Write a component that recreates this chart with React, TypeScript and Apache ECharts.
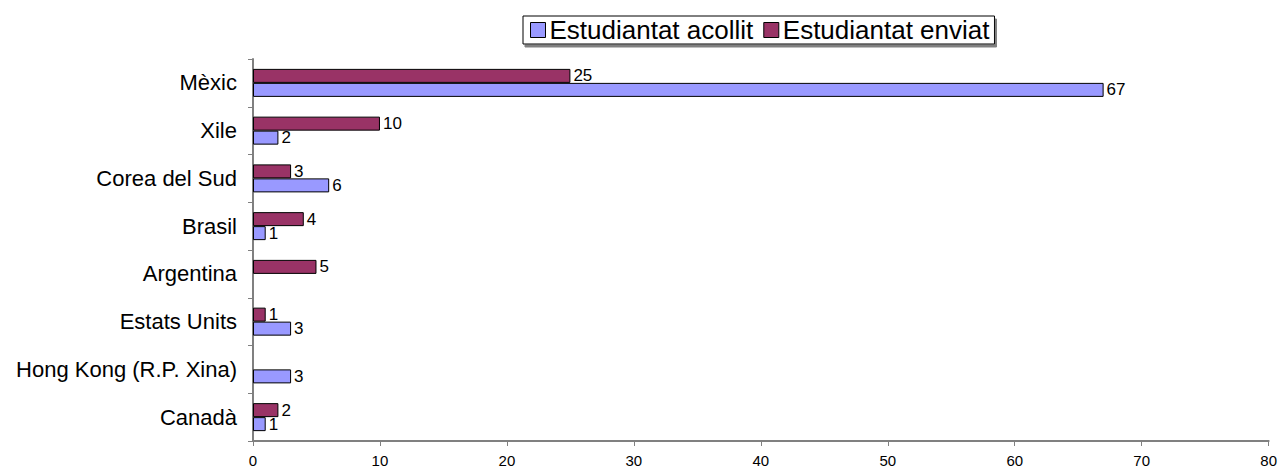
import React, { useEffect, useRef } from "react";
import * as echarts from "echarts";

const categories = ["Canadà", "Hong Kong (R.P. Xina)", "Estats Units", "Argentina", "Brasil", "Corea del Sud", "Xile", "Mèxic"];
const acollit: (number | null)[] = [1, 3, 3, null, 1, 6, 2, 67];
const enviat: (number | null)[] = [2, null, 1, 5, 4, 3, 10, 25];
const seriesNames = ["Estudiantat acollit", "Estudiantat enviat"];
const xMin = 0;
const xMax = 80;
const xInterval = 10;

export default function App() {
  const ref = useRef<HTMLDivElement>(null);
  useEffect(() => {
    if (!ref.current) return;
    const chart = echarts.init(ref.current, undefined, { renderer: "svg" });
    const font = "'Liberation Sans', Arial, sans-serif";
    const label = {
      show: true,
      position: "right" as const,
      distance: 3,
      color: "#000",
      fontSize: 17,
      fontFamily: font,
    };
    chart.setOption({
      animation: false,
      textStyle: { fontFamily: font },
      legend: {
        top: 16,
        left: 523,
        padding: [1, 5, 1, 7],
        itemGap: 10,
        itemWidth: 15,
        itemHeight: 15,
        borderColor: "#000",
        borderWidth: 1,
        backgroundColor: "#fff",
        shadowColor: "#808080",
        shadowOffsetX: 2,
        shadowOffsetY: 3,
        shadowBlur: 0,
        icon: "rect",
        itemStyle: { borderColor: "#000", borderWidth: 1 },
        textStyle: { fontSize: 26, color: "#000", fontFamily: font, padding: [0, 0, 0, -1] },
        data: seriesNames,
      },
      grid: { left: 253, right: 10, top: 59, bottom: 30, containLabel: false },
      xAxis: {
        type: "value",
        min: xMin,
        max: xMax,
        interval: xInterval,
        axisLine: { show: true, lineStyle: { color: "#808080", width: 2 } },
        axisTick: { show: true, length: 5, lineStyle: { color: "#808080" } },
        axisLabel: { color: "#000", fontSize: 15, fontFamily: font, margin: 12 },
        splitLine: { show: false },
      },
      yAxis: {
        type: "category",
        data: categories,
        axisLine: { show: true, lineStyle: { color: "#808080", width: 2 } },
        axisTick: { show: true, length: 5, lineStyle: { color: "#808080" } },
        axisLabel: { color: "#000", fontSize: 22, fontFamily: font, margin: 16 },
      },
      series: [
        {
          name: seriesNames[1],
          type: "bar",
          data: enviat,
          barWidth: 14,
          barGap: "0%",
          itemStyle: { color: "#993366", borderColor: "#000", borderWidth: 1 },
          label,
        },
        {
          name: seriesNames[0],
          type: "bar",
          data: acollit,
          barWidth: 14,
          barGap: "0%",
          itemStyle: { color: "#9999FF", borderColor: "#000", borderWidth: 1 },
          label,
        },
      ],
    });
    return () => chart.dispose();
  }, []);
  return <div ref={ref} style={{ width: 1280, height: 471, position: "absolute", left: 0, top: 0 }} />;
}
